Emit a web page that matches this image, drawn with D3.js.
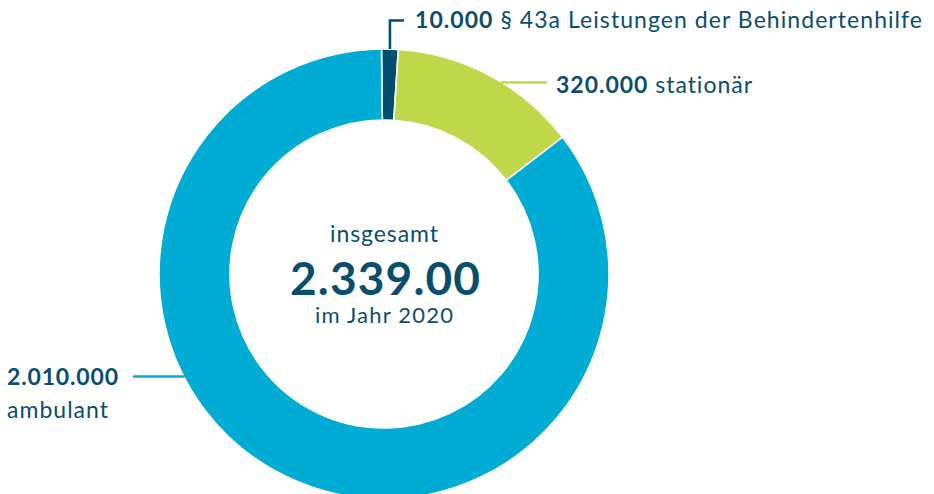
<!DOCTYPE html>
<html>
<head>
<meta charset="utf-8">
<script src="https://cdn.jsdelivr.net/npm/d3@7"></script>
<style>
  html, body { margin: 0; padding: 0; background: #fff; }
  text { font-family: "Lato", "Open Sans", sans-serif; fill: #0a4e6e; font-variant-ligatures: none; }
</style>
</head>
<body>
<div id="chart"></div>
<script>
// data
var categories = ["§ 43a Leistungen der Behindertenhilfe", "stationär", "ambulant"];
var values = [10000, 320000, 2010000];
var valueLabels = ["10.000", "320.000", "2.010.000"];
var colors = ["#004f6f", "#bfd84a", "#00acd4"];
var centerLines = ["insgesamt", "2.339.00", "im Jahr 2020"];

var width = 934, height = 494;
var cx = 384, cy = 274;
var outerR = 225, innerR = 154;

var svg = d3.select("#chart").append("svg")
    .attr("width", width)
    .attr("height", height);

var data = values.map(function(v, i) {
    return { name: categories[i], value: v, label: valueLabels[i], color: colors[i] };
});

var total = d3.sum(values);
var minShare = 0.012; // tiny slices are shown a bit wider so they stay visible

var pie = d3.pie()
    .sort(null)
    .startAngle(-0.011)
    .endAngle(2 * Math.PI - 0.011)
    .value(function(d) { return Math.max(d.value, total * minShare); });

var arc = d3.arc()
    .innerRadius(innerR)
    .outerRadius(outerR);

var g = svg.append("g").attr("transform", "translate(" + cx + "," + cy + ")");

var arcs = pie(data);

g.selectAll("path.slice")
    .data(arcs)
    .enter()
    .append("path")
    .attr("class", "slice")
    .attr("d", arc)
    .style("fill", function(d) { return d.data.color; })
    .style("stroke", "#fff")
    .style("stroke-width", 1.6);

// x on the outer edge of the ring for a given y (left or right side)
var edgeX = function(y, side) {
    var dy = y - cy;
    return cx + side * Math.sqrt(outerR * outerR - dy * dy);
};

// text helper, stretched to the width it has in the original
var addText = function(x, y, size, len, anchor) {
    return svg.append("text")
        .attr("x", x)
        .attr("y", y)
        .attr("text-anchor", anchor || "start")
        .attr("textLength", len)
        .attr("lengthAdjust", "spacing")
        .style("font-size", size + "px");
};

// label for the small slice: bracket line from slice top
var a0 = arcs[0];
var midA = (a0.startAngle + a0.endAngle) / 2;
var topX = cx + Math.sin(midA) * outerR;
var topY = cy - Math.cos(midA) * outerR;
svg.append("path")
    .attr("d", "M" + topX + "," + topY + "V20.5H404")
    .style("fill", "none")
    .style("stroke", colors[0])
    .style("stroke-width", 2.6);

var t0 = addText(415, 28, 23, 507);
t0.append("tspan").style("font-weight", "bold").text(valueLabels[0]);
t0.append("tspan").text(" " + categories[0]);

// stationär
var y1 = 82.5;
svg.append("line")
    .attr("x1", edgeX(y1, 1) - 1)
    .attr("x2", 547)
    .attr("y1", y1)
    .attr("y2", y1)
    .style("stroke", colors[1])
    .style("stroke-width", 2.4);

var t1 = addText(556, 93, 23, 196);
t1.append("tspan").style("font-weight", "bold").text(valueLabels[1]);
t1.append("tspan").text(" " + categories[1]);

// ambulant
var y2 = 376.5;
svg.append("line")
    .attr("x1", 133)
    .attr("x2", edgeX(y2, -1) + 1)
    .attr("y1", y2)
    .attr("y2", y2)
    .style("stroke", colors[2])
    .style("stroke-width", 2.4);

addText(7, 385, 23, 111)
    .style("font-weight", "bold")
    .text(valueLabels[2]);

addText(7, 418, 23, 101)
    .text(categories[2]);

// center
addText(cx, 242, 23, 108, "middle")
    .text(centerLines[0]);

addText(cx + 1, 295, 46, 190, "middle")
    .style("font-weight", "bold")
    .text(centerLines[1]);

addText(cx, 323, 22, 138, "middle")
    .text(centerLines[2]);
</script>
</body>
</html>
